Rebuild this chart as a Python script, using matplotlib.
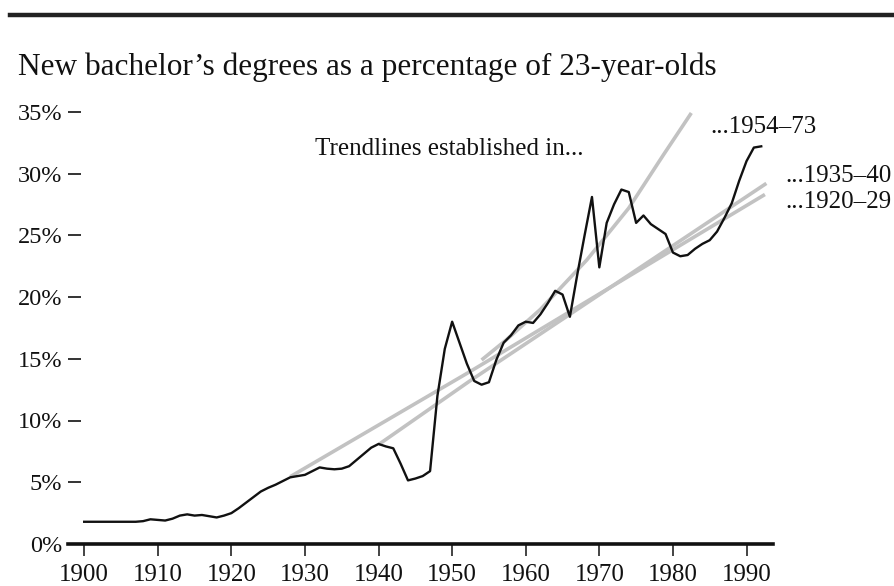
import matplotlib
matplotlib.use("Agg")
import matplotlib.pyplot as plt
from matplotlib.lines import Line2D

# ── data ─────────────────────────────────────────────────────────────────────
years = list(range(1900, 1993))
degrees_pct = [
    1.8, 1.8, 1.8, 1.8, 1.8, 1.8, 1.8, 1.8, 1.85, 2.0,      # 1900-09
    1.95, 1.9, 2.05, 2.3, 2.4, 2.3, 2.35, 2.25, 2.15, 2.3,  # 1910-19
    2.5, 2.9, 3.35, 3.8, 4.25, 4.55, 4.8, 5.1, 5.4, 5.5,    # 1920-29
    5.6, 5.9, 6.2, 6.1, 6.05, 6.1, 6.3, 6.8, 7.3, 7.8,      # 1930-39
    8.1, 7.9, 7.75, 6.5, 5.15, 5.3, 5.5, 5.9, 12.0, 15.8,   # 1940-49
    18.0, 16.3, 14.6, 13.2, 12.9, 13.1, 14.9, 16.3, 16.9, 17.7,  # 1950-59
    18.0, 17.9, 18.6, 19.5, 20.5, 20.2, 18.4, 21.8, 25.0, 28.1,  # 1960-69
    22.4, 26.0, 27.5, 28.7, 28.5, 26.0, 26.6, 25.9, 25.5, 25.1,  # 1970-79
    23.6, 23.3, 23.4, 23.9, 24.3, 24.6, 25.3, 26.4, 27.6, 29.4,  # 1980-89
    31.0, 32.1, 32.2,                                          # 1990-92
]

# trendlines (year, percent)
trend_1920_29_years = [1928, 1952.4, 1992.5]
trend_1920_29_pct = [5.45, 13.95, 28.3]
trend_1935_40_years = [1940, 1952.4, 1992.7]
trend_1935_40_pct = [8.05, 13.2, 29.2]
trend_1954_73_years = [1954, 1957.3, 1962, 1968.3, 1974, 1978.7, 1982.5]
trend_1954_73_pct = [14.9, 16.5, 19.0, 23.0, 27.2, 31.5, 34.9]

y_ticks = [0, 5, 10, 15, 20, 25, 30, 35]
x_ticks = list(range(1900, 2000, 10))

title = "New bachelor\u2019s degrees as a percentage of 23-year-olds"

# ── figure ───────────────────────────────────────────────────────────────────
plt.rcParams["font.family"] = ["Liberation Serif", "DejaVu Serif"]
W, H = 895, 586
fig = plt.figure(figsize=(W / 100, H / 100), dpi=100)
ax = fig.add_axes([68 / W, 1 - 544 / H, (773 - 68) / W, (544 - 99.4) / H])

trend_kw = dict(color="#c2c2c2", linewidth=2.6, solid_capstyle="butt", zorder=1)
ax.plot(trend_1920_29_years, trend_1920_29_pct, **trend_kw)
ax.plot(trend_1935_40_years, trend_1935_40_pct, **trend_kw)
ax.plot(trend_1954_73_years, trend_1954_73_pct, **trend_kw)
ax.plot(years, degrees_pct, color="#111111", linewidth=1.7, zorder=3)

ax.set_xlim(1897.8, 1993.6)
ax.set_ylim(0, 36)
ax.set_xticks(x_ticks)
ax.set_yticks(y_ticks)
ax.set_yticklabels([f"{v}%" for v in y_ticks])

for s in ("top", "right", "left"):
    ax.spines[s].set_visible(False)
ax.spines["bottom"].set_linewidth(2.6)
ax.spines["bottom"].set_color("#111111")

ax.tick_params(axis="x", direction="out", length=8.5, width=1.1, pad=6,
               labelsize=18, colors="#111111")
ax.tick_params(axis="y", direction="in", length=9, width=1.2, pad=4,
               labelsize=17.5, colors="#111111")

# heavy rule at the top of the panel
fig.add_artist(Line2D([10 / W, 1.0], [1 - 15 / H, 1 - 15 / H],
                      color="#222222", linewidth=3.2))

fig.text(18 / W, 1 - 75 / H, title, fontsize=22.5, color="#111111",
         va="baseline", ha="left")
fig.text(315 / W, 1 - 155 / H, "Trendlines established in...", fontsize=18,
         color="#111111", va="baseline", ha="left")
fig.text(710 / W, 1 - 133 / H, "...1954\u201373", fontsize=18,
         color="#111111", va="baseline", ha="left")
fig.text(785 / W, 1 - 182 / H, "...1935\u201340", fontsize=18,
         color="#111111", va="baseline", ha="left")
fig.text(785 / W, 1 - 208 / H, "...1920\u201329", fontsize=18,
         color="#111111", va="baseline", ha="left")

fig.savefig("out.png", dpi=100)
